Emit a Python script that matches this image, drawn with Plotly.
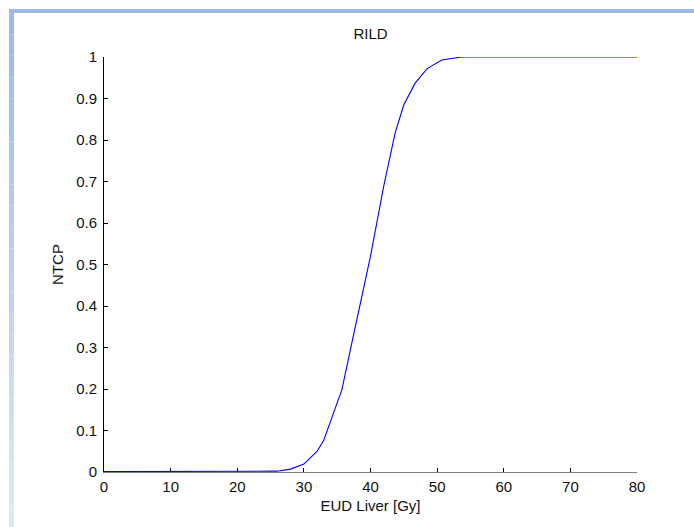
import plotly.graph_objects as go

eud = [0, 26, 28, 30, 32, 33, 34, 35.7, 37, 38, 40, 42, 43.7, 45, 46.7, 48.5, 50.7, 53.7, 80]
ntcp = [0.001, 0.002, 0.007, 0.019, 0.05, 0.077, 0.122, 0.198, 0.296, 0.37, 0.52, 0.69, 0.817, 0.885, 0.937, 0.972, 0.993, 1.0, 1.0]
x_ticks = [0, 10, 20, 30, 40, 50, 60, 70, 80]
y_ticks = [0, 0.1, 0.2, 0.3, 0.4, 0.5, 0.6, 0.7, 0.8, 0.9, 1]

W, H = 694, 527
L, R, T, B = 104, 57, 57, 55
pw, ph = W - L - R, H - T - B

def px(x):
    return (x - L) / pw

def py(y):
    return (H - B - y) / ph

fig = go.Figure()
fig.add_trace(go.Scatter(x=eud, y=ntcp, mode="lines",
                         line=dict(color="#0000ff", width=1.1), showlegend=False))

shapes = []
shapes.append(dict(type="rect", xref="paper", yref="paper", x0=px(9), x1=px(W), y0=py(13), y1=py(9),
                   fillcolor="#9db9e8", line=dict(width=0), layer="above"))
n = 24
c0 = (157, 185, 232)
c1 = (222, 231, 246)
for i in range(n):
    t = i / (n - 1)
    c = tuple(int(round(a + (b - a) * t)) for a, b in zip(c0, c1))
    y0 = 13 + (H - 13) * i / n
    y1 = 13 + (H - 13) * (i + 1) / n
    shapes.append(dict(type="rect", xref="paper", yref="paper", x0=px(9), x1=px(14),
                       y0=py(y1), y1=py(y0), fillcolor="rgb(%d,%d,%d)" % c,
                       line=dict(width=0), layer="above"))

F = "Liberation Sans, Arial"
fig.update_layout(
    width=W, height=H,
    margin=dict(l=L, r=R, t=T, b=B),
    paper_bgcolor="white", plot_bgcolor="white",
    font=dict(family=F, size=15, color="#111111"),
    title=dict(text="RILD", x=(W - R + L) / 2 / W, xanchor="center", y=1 - 34 / H, yanchor="middle",
               font=dict(family=F, size=15)),
    shapes=shapes,
    xaxis=dict(range=[0, 80], tickvals=x_ticks, ticks="inside", ticklen=4, tickcolor="black",
               tickfont=dict(family=F, size=15), ticklabelstandoff=1,
               showline=True, linecolor="#808080", linewidth=1, showgrid=False, zeroline=False,
               title=dict(text="EUD Liver [Gy]", standoff=6, font=dict(family=F, size=15))),
    yaxis=dict(range=[0, 1], tickvals=y_ticks, ticks="inside", ticklen=4, tickcolor="black",
               tickfont=dict(family=F, size=15), ticklabelstandoff=3,
               showline=True, linecolor="black", linewidth=1, showgrid=False, zeroline=False,
               title=dict(text="NTCP", standoff=8, font=dict(family=F, size=15))),
)
fig.write_html("out.html")
